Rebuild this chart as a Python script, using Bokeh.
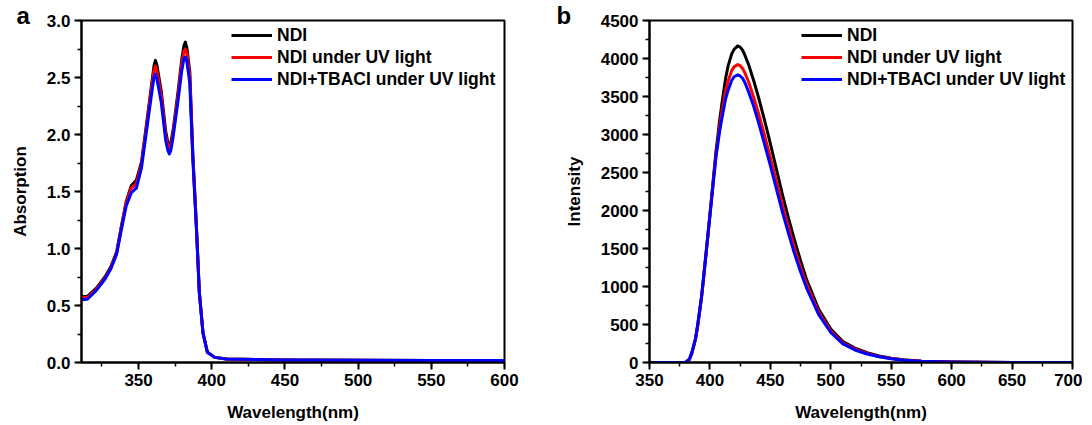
from bokeh.plotting import figure
from bokeh.layouts import row
from bokeh.models import Range1d, SingleIntervalTicker, PrintfTickFormatter, Legend, LegendItem
from bokeh.embed import file_html
from bokeh.resources import INLINE

# ---- Absorption data (panel a) ----
abs_wl = [311, 315, 321, 327, 331, 335, 338, 341.5, 345, 348.5, 352, 355, 358.5, 360.5, 361.5, 362.5,
          365.5, 368.5, 370, 371, 372, 373.5, 377, 379.5, 381, 382, 383, 385, 387, 389.5, 391.5, 394, 397, 402,
          410, 450, 500, 550, 600]
abs_ndi = [0.58, 0.58, 0.65, 0.75, 0.84, 0.97, 1.18, 1.41, 1.55, 1.60, 1.76, 2.05, 2.40, 2.60, 2.65, 2.61,
           2.38, 2.03, 1.93, 1.90, 1.93, 2.03, 2.38, 2.66, 2.78, 2.81, 2.76, 2.55, 1.85, 1.20, 0.62, 0.26, 0.09, 0.045,
           0.03, 0.022, 0.02, 0.018, 0.017]
abs_uv = [0.57, 0.57, 0.64, 0.74, 0.83, 0.96, 1.17, 1.40, 1.53, 1.57, 1.74, 2.03, 2.37, 2.56, 2.60, 2.56,
          2.34, 1.99, 1.90, 1.87, 1.90, 2.00, 2.35, 2.62, 2.73, 2.75, 2.71, 2.51, 1.83, 1.19, 0.615, 0.26, 0.09, 0.045,
          0.03, 0.022, 0.02, 0.018, 0.017]
abs_tbacl = [0.55, 0.555, 0.63, 0.73, 0.82, 0.95, 1.15, 1.37, 1.49, 1.53, 1.71, 1.99, 2.32, 2.50, 2.53, 2.49,
             2.28, 1.95, 1.86, 1.83, 1.86, 1.97, 2.30, 2.56, 2.67, 2.68, 2.64, 2.45, 1.80, 1.18, 0.61, 0.26, 0.09, 0.045,
             0.03, 0.022, 0.02, 0.018, 0.017]

# ---- Emission data (panel b) ----
pl_wl = [350, 375, 380, 383, 385, 388, 390, 393, 395, 398,
         400, 403, 405, 408, 410, 413, 415, 418, 420, 423,
         425, 427, 429, 432, 436, 440, 445, 450, 455, 460,
         465, 470, 475, 480, 490, 500, 510, 520, 530, 540,
         550, 560, 575, 600, 650, 700]
pl_ndi = [0, 0, 3, 40, 120, 300, 500, 850, 1150, 1630,
          1950, 2450, 2780, 3180, 3420, 3740, 3900, 4060, 4120, 4165,
          4150, 4110, 4040, 3920, 3720, 3500, 3200, 2880, 2545, 2210,
          1900, 1610, 1340, 1090, 700, 440, 275, 190, 130, 85,
          55, 35, 17, 6, 1, 0]
pl_uv = [0, 0, 3, 40, 120, 300, 500, 850, 1150, 1620,
         1940, 2420, 2740, 3100, 3300, 3580, 3700, 3840, 3890, 3920,
         3905, 3870, 3810, 3690, 3500, 3290, 3000, 2700, 2385, 2070,
         1780, 1500, 1250, 1030, 660, 415, 255, 175, 120, 80,
         52, 33, 16, 6, 1, 0]
pl_tbacl = [0, 0, 4, 45, 130, 310, 510, 860, 1160, 1620,
            1930, 2400, 2700, 3040, 3220, 3470, 3580, 3710, 3760, 3785,
            3770, 3740, 3680, 3560, 3380, 3170, 2885, 2590, 2285, 1980,
            1700, 1430, 1195, 980, 630, 395, 245, 165, 112, 75,
            48, 30, 15, 6, 1, 0]

series_names = ["NDI", "NDI under UV light", "NDI+TBACI under UV light"]
series_colors = ["#000000", "#ff0000", "#0000ff"]
x_label = "Wavelength(nm)"
y_labels = ["Absorption", "Intensity"]
panel_letters = ["a", "b"]

FONT = "Liberation Sans"


def style(p, ylabel, yfmt, yint, letter, letter_offset):
    p.xaxis.axis_label = x_label
    p.yaxis.axis_label = ylabel
    p.xaxis.ticker = SingleIntervalTicker(interval=50, num_minor_ticks=2)
    p.yaxis.ticker = SingleIntervalTicker(interval=yint, num_minor_ticks=2)
    p.yaxis.formatter = PrintfTickFormatter(format=yfmt)
    for ax in (p.xaxis, p.yaxis):
        ax.axis_line_width = 2
        ax.axis_line_color = "black"
        ax.major_tick_line_width = 2
        ax.minor_tick_line_width = 1.5
        ax.major_tick_out = 7
        ax.major_tick_in = 0
        ax.minor_tick_out = 4
        ax.minor_tick_in = 0
        ax.major_label_text_font = FONT
        ax.major_label_text_font_style = "bold"
        ax.major_label_text_font_size = "17px"
        ax.major_label_text_color = "black"
        ax.axis_label_text_font = FONT
        ax.axis_label_text_font_style = "bold"
        ax.axis_label_text_font_size = "17px"
        ax.axis_label_text_color = "black"
        ax.major_label_standoff = 4
    p.xaxis.axis_label_standoff = 14
    p.yaxis.axis_label_standoff = 14
    p.xgrid.visible = False
    p.ygrid.visible = False
    p.outline_line_color = "black"
    p.outline_line_width = 2
    p.outline_line_alpha = 1
    p.title.text = letter
    p.title.align = "left"
    p.title.offset = letter_offset
    p.title.standoff = -16
    p.title.text_font = FONT
    p.title.text_font_style = "bold"
    p.title.text_font_size = "24px"
    p.title.text_color = "black"


def add_legend(p, renderers, x_off):
    items = [LegendItem(label=n, renderers=[r]) for n, r in zip(series_names, renderers)]
    leg = Legend(items=items, location=(x_off, 342 - 4 - 66))
    leg.border_line_alpha = 0
    leg.background_fill_alpha = 0
    leg.padding = 0
    leg.margin = 0
    leg.spacing = 0
    leg.glyph_width = 41
    leg.glyph_height = 22
    leg.label_height = 22
    leg.label_standoff = 5
    leg.label_text_font = FONT
    leg.label_text_font_style = "bold"
    leg.label_text_font_size = "17.5px"
    leg.label_text_color = "black"
    p.add_layout(leg)


# ---- Panel a ----
pa = figure(output_backend="svg", toolbar_location=None, frame_width=423, frame_height=342,
            min_border_left=81, min_border_right=50, min_border_top=20, min_border_bottom=58,
            x_range=Range1d(311, 600), y_range=Range1d(0, 3.0))
style(pa, y_labels[0], "%.1f", 0.5, panel_letters[0], -65)
ra = []
for ys, c in zip([abs_ndi, abs_uv, abs_tbacl], series_colors):
    ra.append(pa.line(abs_wl, ys, line_color=c, line_width=3, line_join="round"))
add_legend(pa, ra, 150)

# ---- Panel b ----
pb = figure(output_backend="svg", toolbar_location=None, frame_width=423, frame_height=342,
            min_border_left=95, min_border_right=10, min_border_top=20, min_border_bottom=58,
            x_range=Range1d(350, 700), y_range=Range1d(0, 4500))
style(pb, y_labels[1], "%d", 500, panel_letters[1], -93)
rb = []
for ys, c in zip([pl_ndi, pl_uv, pl_tbacl], series_colors):
    rb.append(pb.line(pl_wl, ys, line_color=c, line_width=3, line_join="round"))
add_legend(pb, rb, 152)

layout = row(pa, pb)
open("out.html", "w").write(file_html(layout, INLINE))
